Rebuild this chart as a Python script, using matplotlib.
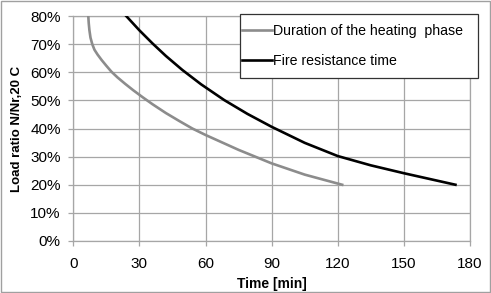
import matplotlib
matplotlib.use("Agg")
import matplotlib.pyplot as plt
from matplotlib.ticker import PercentFormatter
from matplotlib.patches import Rectangle

plt.rcParams['font.family'] = ['Liberation Sans', 'DejaVu Sans']

# ── data ────────────────────────────────────────────────────
heat_t = [6.8, 7.0, 7.3, 7.8, 8.6, 9.6, 11.0, 12.9, 15.0, 17.3, 20.0, 23.5, 27.2, 31.5,
          36.0, 42.0, 48.0, 54.0, 60.0, 75.0, 90.0, 105.0, 122.0]
heat_y = [80.0, 77.5, 75.0, 72.3, 70.0, 68.0, 66.3, 64.3, 62.3, 60.2, 58.2, 55.9, 53.6, 51.1,
          48.6, 45.5, 42.7, 40.0, 37.7, 32.4, 27.6, 23.6, 20.0]

fire_t = [24.0, 30.0, 36.0, 42.0, 49.5, 58.0, 68.5, 79.0, 90.0, 105.0, 120.0, 135.0, 150.0, 173.4]
fire_y = [80.0, 74.9, 70.2, 65.8, 60.8, 55.7, 50.1, 45.2, 40.6, 34.9, 30.2, 26.9, 24.1, 20.0]

x_ticks = [0, 30, 60, 90, 120, 150, 180]
y_ticks = [0, 10, 20, 30, 40, 50, 60, 70, 80]

W, H = 491, 293
fig = plt.figure(figsize=(W / 100, H / 100), dpi=100)
ax = fig.add_axes([73.3 / W, 1 - 241 / H, (470 - 73.3) / W, (241 - 16) / H])

grid_c = "#a6a6a6"
ax.plot(heat_t, heat_y, color="#8c8c8c", lw=1.9, label="Duration of the heating  phase", zorder=3)
ax.plot(fire_t, fire_y, color="black", lw=1.9, label="Fire resistance time", zorder=3)

ax.set_xlim(0, 180)
ax.set_ylim(0, 80)
ax.set_xticks(x_ticks)
ax.set_yticks(y_ticks)
ax.yaxis.set_major_formatter(PercentFormatter(decimals=0))
ax.grid(True, color=grid_c, lw=0.9)
for s in ax.spines.values():
    s.set_color(grid_c)
    s.set_linewidth(0.9)
ax.tick_params(axis="both", colors=grid_c, labelcolor="black", labelsize=11, length=3.6, width=0.9)
ax.tick_params(axis="x", pad=8)
ax.tick_params(axis="y", pad=5.5)

ax.set_xlabel("Time [min]", fontsize=10, fontweight="bold", labelpad=4)
ax.set_ylabel("Load ratio N/Nr,20 C", fontsize=9.5, fontweight="bold", labelpad=5.5)

# legend box drawn by hand so the padding can match (tight on the left)
box = Rectangle((240 / W, 1 - 78 / H), (478 - 240) / W, (78 - 14) / H, transform=fig.transFigure,
                facecolor="white", edgecolor="#333333", lw=0.9, clip_on=False, zorder=4)
ax.add_patch(box)
leg = ax.legend(loc="upper left", bbox_to_anchor=(242 / W, 1 - 24 / H),
                bbox_transform=fig.transFigure, borderaxespad=0, borderpad=0, fontsize=10.2,
                frameon=False, handlelength=2.1, handletextpad=0.1, labelspacing=1.15)
leg.set_zorder(5)

fig.patches.append(Rectangle((0.002, 0.003), 0.996, 0.994, transform=fig.transFigure,
                             fill=False, edgecolor="#a0a0a0", lw=1))

fig.savefig("out.png", dpi=100)
